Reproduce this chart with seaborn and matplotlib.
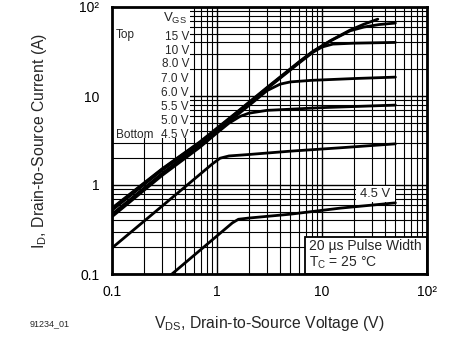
import numpy as np
import pandas as pd
import matplotlib
matplotlib.use("Agg")
import matplotlib.pyplot as plt
from matplotlib.patches import Rectangle
from matplotlib.ticker import LogLocator, NullFormatter, FixedLocator, FixedFormatter
import seaborn as sns

# Output characteristics, I_D vs V_DS at T_C = 25 °C, one curve per gate drive
vds_15v = [0.1, 0.3, 0.686, 1.5, 3.0, 6.2, 8.2, 12.0, 18.5, 25.0, 34.0]
id_15v = [0.55, 1.52, 3.05, 6.4, 12.5, 24.8, 31.8, 41.8, 55.0, 64.0, 73.0]

vds_10v = [0.1, 0.3, 0.686, 1.5, 3.0, 6.2, 8.2, 12.0, 18.5, 25.0, 35.0, 50.0]
id_10v = [0.54, 1.5, 3.0, 6.3, 12.3, 24.5, 31.5, 41.5, 54.0, 59.5, 63.5, 66.0]

vds_8v = [0.1, 0.3, 0.686, 1.5, 3.0, 6.2, 8.2, 10.0, 12.7, 20.0, 50.0]
id_8v = [0.52, 1.47, 2.95, 6.2, 12.1, 24.0, 31.0, 35.5, 38.3, 39.2, 40.0]

vds_7v = [0.1, 0.3, 0.686, 1.5, 2.2, 3.0, 4.0, 5.0, 8.0, 20.0, 50.0]
id_7v = [0.47, 1.35, 2.8, 5.9, 8.5, 11.5, 13.6, 14.4, 15.0, 15.7, 16.3]

vds_6v = [0.1, 0.3, 0.686, 1.0, 1.3, 1.66, 2.0, 3.0, 10.0, 50.0]
id_6v = [0.44, 1.28, 2.65, 3.85, 4.95, 5.9, 6.4, 6.9, 7.4, 7.9]

vds_5v = [0.1, 0.5, 0.9, 1.07, 1.3, 2.0, 5.0, 15.0, 50.0]
id_5v = [0.196, 0.96, 1.72, 2.0, 2.12, 2.2, 2.4, 2.62, 2.9]

vds_4v5 = [0.35, 1.0, 1.4, 1.6, 2.0, 5.0, 15.0, 50.0]
id_4v5 = [0.094, 0.268, 0.375, 0.412, 0.425, 0.47, 0.55, 0.63]

curves = {
    "15 V": (vds_15v, id_15v),
    "10 V": (vds_10v, id_10v),
    "8.0 V": (vds_8v, id_8v),
    "7.0 V": (vds_7v, id_7v),
    "6.0 V": (vds_6v, id_6v),
    "5.0 V": (vds_5v, id_5v),
    "4.5 V": (vds_4v5, id_4v5),
}

vgs_labels = ["15 V", "10 V", "8.0 V", "7.0 V", "6.0 V", "5.5 V", "5.0 V", "4.5 V"]
tick_values = [0.1, 1, 10, 100]
tick_labels = ["0.1", "1", "10", "10\u00b2"]

rows = []
for name, (xs, ys) in curves.items():
    for x, y in zip(xs, ys):
        rows.append({"vds": x, "id": y, "vgs": name})
df = pd.DataFrame(rows)

sns.set_style("white")
plt.rcParams["font.family"] = ["Liberation Sans", "DejaVu Sans"]
plt.rcParams["mathtext.fontset"] = "custom"
plt.rcParams["mathtext.rm"] = "Liberation Sans"
plt.rcParams["mathtext.it"] = "Liberation Sans:italic"

W, H = 468, 337
fig = plt.figure(figsize=(W / 100, H / 100), dpi=100)
x0, x1, y0, y1 = 112, 427, 7, 274
ax = fig.add_axes([x0 / W, 1 - y1 / H, (x1 - x0) / W, (y1 - y0) / H])

ax.set_xscale("log")
ax.set_yscale("log")
ax.set_xlim(0.1, 100)
ax.set_ylim(0.1, 100)

sns.lineplot(data=df, x="vds", y="id", hue="vgs", units="vgs", estimator=None,
             sort=False, palette=["black"] * len(curves), legend=False,
             linewidth=2.0, ax=ax, zorder=2)

# log grid with every minor decade line
for axis in (ax.xaxis, ax.yaxis):
    axis.set_major_locator(FixedLocator(tick_values))
    axis.set_major_formatter(FixedFormatter(tick_labels))
    axis.set_minor_locator(LogLocator(base=10, subs=np.arange(2, 10)))
    axis.set_minor_formatter(NullFormatter())
ax.set_axisbelow(True)
ax.grid(which="major", color="black", linewidth=1.0)
ax.grid(which="minor", color="black", linewidth=0.8)
ax.tick_params(which="both", length=0, labelsize=10, colors="black")
ax.tick_params(axis="x", pad=8)
ax.tick_params(axis="y", pad=9)
for s in ax.spines.values():
    s.set_linewidth(2.0)
    s.set_color("black")
    s.set_zorder(5)

def fx(px):
    return (px - x0) / (x1 - x0)

def fy(py):
    return (y1 - py) / (y1 - y0)

# legend block in the upper left
ax.add_patch(Rectangle((0, fy(138)), fx(190), 1 - fy(138), transform=ax.transAxes,
                       facecolor="white", edgecolor="none", zorder=1))
ax.text(fx(163), fy(18), r"$\mathregular{V_{GS}}$", transform=ax.transAxes,
        fontsize=9.5, ha="left", va="center", zorder=3)
ax.text(fx(116), fy(35), "Top", transform=ax.transAxes, fontsize=8.5,
        ha="left", va="center", zorder=3)
ax.text(fx(116), fy(135), "Bottom", transform=ax.transAxes, fontsize=8.5,
        ha="left", va="center", zorder=3)
for lab, py in zip(vgs_labels, [37, 51, 64, 79, 93, 107, 121, 135]):
    ax.text(fx(189), fy(py), lab, transform=ax.transAxes, fontsize=8.5,
            ha="right", va="center", zorder=3)

# label on the lowest curve
ax.add_patch(Rectangle((fx(356), fy(202)), fx(395) - fx(356), fy(186) - fy(202),
                       transform=ax.transAxes, facecolor="white", edgecolor="none",
                       zorder=1))
ax.text(fx(375), fy(194), "4.5 V", transform=ax.transAxes, fontsize=9.3,
        ha="center", va="center", zorder=3)

# test conditions box
ax.add_patch(Rectangle((fx(305), 0), 1 - fx(305), fy(237), transform=ax.transAxes,
                       facecolor="white", edgecolor="black", linewidth=1.3, zorder=1))
ax.text(fx(309), fy(246), "20 \u00b5s Pulse Width", transform=ax.transAxes,
        fontsize=10, ha="left", va="center", zorder=3)
ax.text(fx(309), fy(263), r"T$_\mathregular{C}$ = 25 °C", transform=ax.transAxes,
        fontsize=10, ha="left", va="center", zorder=3)

ax.set_xlabel(r"V$_\mathregular{DS}$, Drain-to-Source Voltage (V)", fontsize=11.3,
              labelpad=11)
ax.set_ylabel(r"I$_\mathregular{D}$, Drain-to-Source Current (A)", fontsize=11.3,
              labelpad=22)

fig.text(30 / W, 1 - 324 / H, "91234_01", fontsize=6.5, ha="left", va="center")

fig.savefig("out.png", dpi=100)
